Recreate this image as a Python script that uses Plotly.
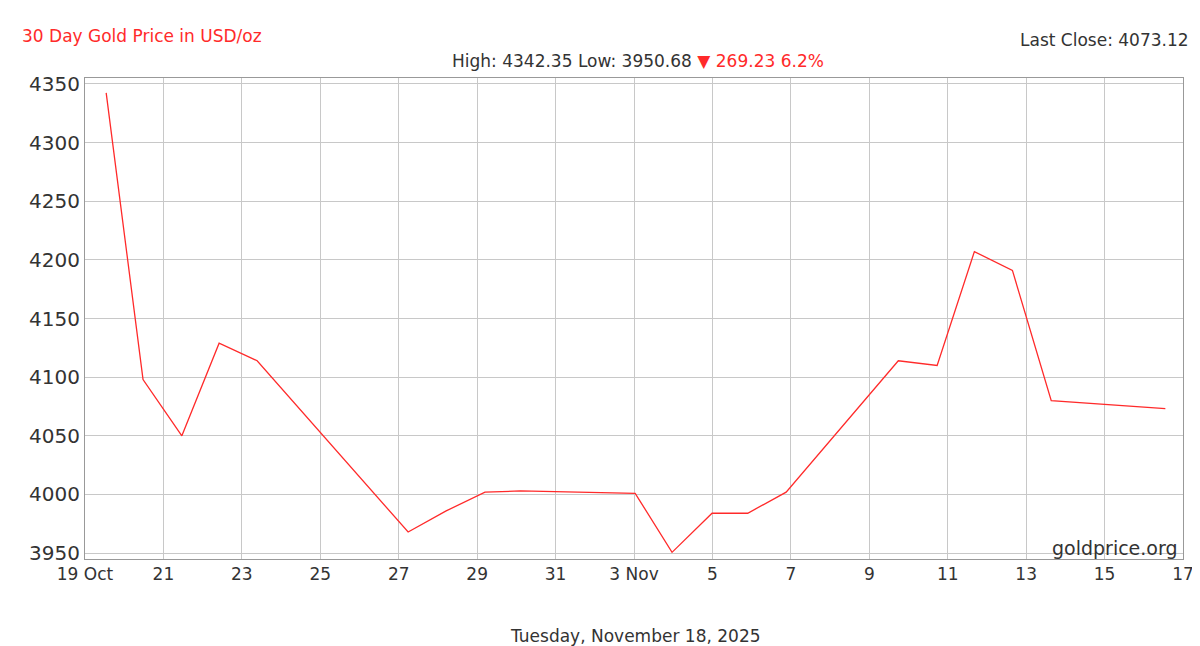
import plotly.graph_objects as go

days = [0.54, 1.48, 2.47, 3.42, 4.39, 8.24, 9.21, 10.2, 11.1, 14.03, 14.97, 15.99, 16.9, 17.88, 20.74, 21.73, 22.68, 23.65, 24.64, 27.55]
prices = [4342.35, 4098, 4050, 4129, 4114, 3968, 3986, 4002, 4003, 4001, 3950.68, 3984, 3984, 4002, 4114, 4110, 4207, 4191, 4080, 4073.12]
tick_pos = list(range(0, 29, 2))
tick_labels = ["19 Oct", "21", "23", "25", "27", "29", "31", "3 Nov", "5", "7", "9", "11", "13", "15", "17"]

L, R, T, B = 77, 25, 70, 95
fig = go.Figure(go.Scatter(x=days, y=prices, mode="lines", line=dict(color="#ff2a2a", width=1.3)))
font = "DejaVu Sans, Verdana, sans-serif"
fig.update_layout(
    width=1200, height=646, plot_bgcolor="white", paper_bgcolor="white",
    margin=dict(l=L, r=R, t=T, b=B, autoexpand=False), showlegend=False,
    font=dict(family=font, size=17, color="#333"),
    xaxis=dict(range=[0, 28], tickvals=tick_pos, ticktext=tick_labels, showgrid=True, automargin=False,
               gridcolor="#c8c8c8", linecolor="#999", showline=True, mirror=True, ticks="", zeroline=False),
    yaxis=dict(range=[3945, 4355], dtick=50, tick0=3950, showgrid=True, gridcolor="#c8c8c8", automargin=False,
               linecolor="#999", showline=True, mirror=True, ticks="", zeroline=False, tickfont=dict(size=20)),
)
notes = [
    ("30 Day Gold Price in USD/oz", 12, 28, "left", "#ff2a2a", 17),
    ("Last Close: 4073.12", 1183, 32, "right", "#333", 17),
    ("High: 4342.35 Low: 3950.68 <span style='color:#ff2a2a'>▼ 269.23 6.2%</span>", 630, 53, "center", "#333", 17),
    ("goldprice.org", 1172, 540, "right", "#333", 19),
    ("Tuesday, November 18, 2025", 627, 628, "center", "#333", 17),
]
for text, px, py, xa, col, sz in notes:
    fig.add_annotation(text=text, xref="paper", yref="paper", showarrow=False, xanchor=xa, yanchor="middle",
                       x=(px - L) / (1200 - L - R), y=(646 - B - py) / (646 - T - B),
                       font=dict(color=col, size=sz))
fig.write_html("out.html")
